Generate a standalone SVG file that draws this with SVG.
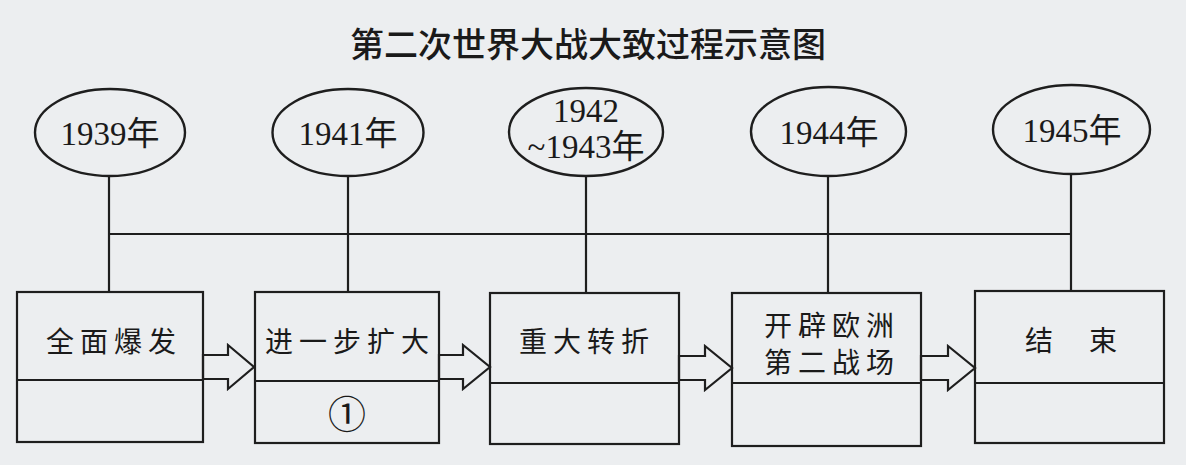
<svg xmlns="http://www.w3.org/2000/svg" width="1186" height="465" viewBox="0 0 1186 465">
  <style>
    .ln { fill: none; stroke: #1e1e1e; stroke-width: 2.2; }
    .box { fill: none; stroke: #1e1e1e; stroke-width: 2.2; }
    .ell { fill: none; stroke: #1e1e1e; stroke-width: 2.4; }
    .arr { fill: #eceef0; stroke: #1e1e1e; stroke-width: 2.2; stroke-linejoin: miter; }
    .yr { font-family: "Liberation Serif", "Noto Sans CJK SC", serif; font-size: 33px; fill: #1a1a1a; text-anchor: middle; }
    .lbl { font-family: "Noto Sans CJK SC", "Noto Sans CJK JP", sans-serif; font-size: 28px; fill: #1a1a1a; text-anchor: middle; letter-spacing: 6px; }
    .title { font-family: "Noto Sans CJK SC", sans-serif; font-size: 34px; font-weight: 500; fill: #1a1a1a; text-anchor: middle; }
  </style>
  <rect x="0" y="0" width="1186" height="465" fill="#eceef0"/>
  <text class="title" x="588" y="57">第二次世界大战大致过程示意图</text>

  <g id="connectors">
    <line class="ln" x1="109" y1="176" x2="109" y2="292"/>
    <line class="ln" x1="348" y1="176" x2="348" y2="292"/>
    <line class="ln" x1="586" y1="176" x2="586" y2="293"/>
    <line class="ln" x1="828" y1="176" x2="828" y2="293"/>
    <line class="ln" x1="1071" y1="174" x2="1071" y2="291"/>
    <line class="ln" x1="109" y1="234" x2="1071" y2="234"/>
    <polygon class="arr" points="203,355 228,355 228,345 254,367 228,389 228,379 203,379"/>
    <polygon class="arr" points="439,355 463,355 463,345 490,367 463,389 463,379 439,379"/>
    <polygon class="arr" points="679,356 705,356 705,346 732,368 705,390 705,380 679,380"/>
    <polygon class="arr" points="921,356 948,356 948,346 975,368 948,390 948,380 921,380"/>
  </g>

  <g id="y1939">
    <ellipse class="ell" cx="110" cy="132.5" rx="75" ry="43.5"/>
    <text class="yr" x="110" y="145">1939年</text>
  </g>
  <g id="y1941">
    <ellipse class="ell" cx="348" cy="132.5" rx="75.5" ry="43.5"/>
    <text class="yr" x="348" y="145">1941年</text>
  </g>
  <g id="y1942">
    <ellipse class="ell" cx="586" cy="132" rx="77" ry="44"/>
    <text class="yr" x="586" y="122">1942</text>
    <text class="yr" x="586" y="158">~1943年</text>
  </g>
  <g id="y1944">
    <ellipse class="ell" cx="828.5" cy="131.5" rx="77.5" ry="44.5"/>
    <text class="yr" x="829" y="144">1944年</text>
  </g>
  <g id="y1945">
    <ellipse class="ell" cx="1071.5" cy="129.5" rx="78.5" ry="44.5"/>
    <text class="yr" x="1072" y="142">1945年</text>
  </g>

  <g id="stage1">
    <rect class="box" x="17" y="292" width="186" height="150"/>
    <line class="ln" x1="17" y1="380" x2="203" y2="380"/>
    <text class="lbl" x="114" y="352">全面爆发</text>
  </g>
  <g id="stage2">
    <rect class="box" x="255" y="292" width="184" height="151"/>
    <line class="ln" x1="255" y1="381" x2="439" y2="381"/>
    <text class="lbl" x="350" y="352">进一步扩大</text>
    <text x="347" y="428" font-family="Noto Sans CJK SC, sans-serif" font-size="38" fill="#1a1a1a" text-anchor="middle">①</text>
  </g>
  <g id="stage3">
    <rect class="box" x="490" y="293" width="189" height="151"/>
    <line class="ln" x1="490" y1="383" x2="679" y2="383"/>
    <text class="lbl" x="587" y="352">重大转折</text>
  </g>
  <g id="stage4">
    <rect class="box" x="732" y="293" width="189" height="153"/>
    <line class="ln" x1="732" y1="383" x2="921" y2="383"/>
    <text class="lbl" x="832" y="336">开辟欧洲</text>
    <text class="lbl" x="832" y="373">第二战场</text>
  </g>
  <g id="stage5">
    <rect class="box" x="975" y="291" width="189" height="152"/>
    <line class="ln" x1="975" y1="383" x2="1164" y2="383"/>
    <text class="lbl" x="1073" y="351" style="letter-spacing:4px">结　束</text>
  </g>
</svg>
